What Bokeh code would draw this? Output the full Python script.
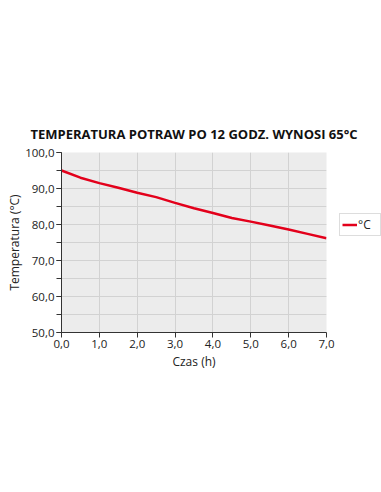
from bokeh.plotting import figure
from bokeh.models import (Range1d, SingleIntervalTicker, CustomJSTickFormatter,
                          Legend, LegendItem)
from bokeh.embed import file_html
from bokeh.resources import INLINE

hours = [0.0, 0.5, 1.0, 1.5, 2.0, 2.5, 3.0, 3.5, 4.0, 4.5, 5.0, 5.5, 6.0, 6.5, 7.0]
temps = [95.0, 93.0, 91.5, 90.2, 88.8, 87.6, 86.0, 84.5, 83.2, 81.8, 80.8, 79.7, 78.6, 77.4, 76.2]

title_text = "TEMPERATURA POTRAW PO 12 GODZ. WYNOSI 65°C"
x_label = "Czas (h)"
y_label = "Temperatura (°C)"
legend_label = "°C"

FONT = "Open Sans"

p = figure(frame_width=265, frame_height=180, output_backend="svg", toolbar_location=None,
           x_range=Range1d(0, 7), y_range=Range1d(50, 100),
           min_border_left=61, min_border_right=55, min_border_top=152,
           min_border_bottom=160)
p.outline_line_color = None
p.background_fill_color = "#ececec"
p.border_fill_color = "white"

r = p.line(hours, temps, line_color="#e3001b", line_width=2.5)

fmt = CustomJSTickFormatter(code="return tick.toFixed(1).replace('.', ',');")

p.xaxis.ticker = SingleIntervalTicker(interval=1, num_minor_ticks=0)
p.yaxis.ticker = SingleIntervalTicker(interval=10, num_minor_ticks=2)
p.xaxis.formatter = fmt
p.yaxis.formatter = fmt

for ax in (p.xaxis[0], p.yaxis[0]):
    ax.axis_line_color = "#333333"
    ax.major_tick_line_color = "#333333"
    ax.minor_tick_line_color = "#333333"
    ax.major_tick_out = 5
    ax.major_tick_in = 0
    ax.minor_tick_out = 5
    ax.minor_tick_in = 0
    ax.major_label_text_font = FONT
    ax.major_label_text_font_size = "11.5px"
    ax.major_label_text_color = "#222222"
    ax.axis_label_text_font = FONT
    ax.axis_label_text_font_size = "12px"
    ax.axis_label_text_font_style = "normal"
    ax.axis_label_text_color = "#222222"
p.xaxis.minor_tick_line_color = None
p.xaxis.major_label_standoff = 2
p.yaxis.major_label_standoff = 2
p.xaxis.axis_label = x_label
p.xaxis.axis_label_standoff = 2
p.yaxis.axis_label = y_label
p.yaxis.axis_label_standoff = -1

p.xgrid.grid_line_color = "#d2d2d2"
p.ygrid.grid_line_color = "#d2d2d2"
p.ygrid.minor_grid_line_color = "#d2d2d2"

p.title.text = title_text
p.title.text_font = FONT
p.title.text_font_size = "13px"
p.title.text_font_style = "bold"
p.title.align = "center"
p.title.text_color = "#111111"
p.title.standoff = 19

legend = Legend(items=[LegendItem(label=legend_label, renderers=[r])],
                location=(13, 96))
legend.label_text_font = FONT
legend.label_text_font_size = "12px"
legend.label_text_color = "#222222"
legend.glyph_width = 15
legend.glyph_height = 9
legend.label_standoff = 1
legend.padding = 2
legend.margin = 0
legend.spacing = 0
legend.label_height = 9
legend.border_line_color = "#bbbbbb"
legend.border_line_width = 1
legend.background_fill_color = "white"
legend.background_fill_alpha = 1.0
p.add_layout(legend, "right")

open("out.html", "w").write(file_html(p, INLINE))
